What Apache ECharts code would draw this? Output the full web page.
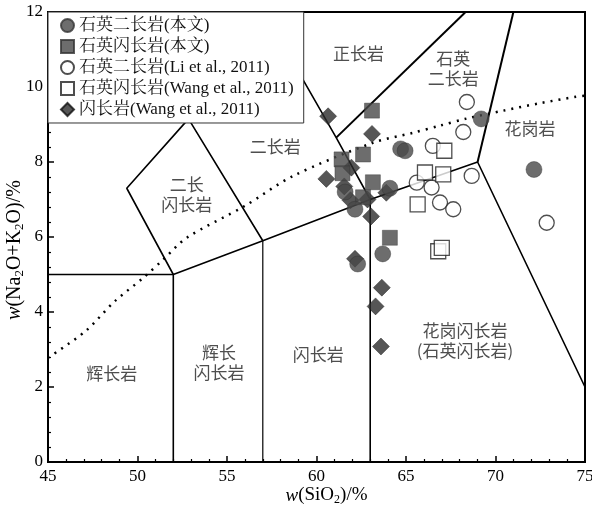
<!DOCTYPE html>
<html><head><meta charset="utf-8">
<script src="https://cdn.jsdelivr.net/npm/echarts@6/dist/echarts.min.js"></script>
<style>html,body{margin:0;padding:0;background:#fff}#c{width:592px;height:510px}</style>
</head><body><div id="c"></div>
<script>
// ---------- data ----------
const seriesNames = ['石英二长岩(本文)', '石英闪长岩(本文)', '石英二长岩(Li et al., 2011)', '石英闪长岩(Wang et al., 2011)', '闪长岩(Wang et al., 2011)'];
const qMonzoniteThis = [[69.2,9.15],[72.15,7.8],[64.7,8.35],[64.95,8.3],[64.1,7.3],[62.15,6.74],[62.3,5.28],[63.7,5.55],[61.6,7.2]];
const qDioriteThis = [[63.1,9.37],[62.6,8.2],[61.4,8.07],[61.45,7.7],[63.15,7.46],[62.6,7.06],[64.1,5.98]];
const qMonzoniteLi = [[68.4,9.6],[68.2,8.8],[66.5,8.43],[68.67,7.63],[65.6,7.45],[66.43,7.32],[66.9,6.92],[67.64,6.74],[72.86,6.38]];
const qDioriteWang = [[67.14,8.3],[66.06,7.72],[67.08,7.67],[65.65,6.87],[66.8,5.62],[67.0,5.71]];
const dioriteWang = [[60.65,9.22],[63.1,8.75],[60.55,7.55],[61.95,7.85],[61.55,7.35],[63.9,7.18],[62.85,7.0],[61.9,6.98],[63.05,6.55],[62.15,5.42],[63.65,4.65],[63.3,4.15],[63.6,3.08]];

// field boundaries (SiO2, Na2O+K2O)
const bGabbro = [[45,5],[52,5],[52,0]];
const b57 = [[57,0],[57,5.9]];
const b63 = [[63,0],[63,7]];
const bMain = [[52,5],[57,5.9],[63,7],[69,8],[75,2]];
const bMonzoniteSyenite = [[63,7],[61.1,8.65],[59.3,10.15],[57.7,11.5]];
const bSyeniteQm = [[61.1,8.65],[68.33,12]];
const bQmGranite = [[69,8],[71,12]];
const bMonzodiorite = [[52,5],[49.4,7.3],[52.85,9.15],[57,5.9]];
const alkalineLine = [[45,2.78],[47.07,3.48],[48.74,4.29],[50.32,4.91],[51.44,5.4],[52.75,5.98],[56.0,6.83],[58.7,7.63],[63.2,8.52],[65.4,8.78],[66.9,8.97],[68.4,9.16],[70.44,9.37],[72.5,9.57],[74.5,9.74],[75,9.77]];

// field names [SiO2, alkali, text]
const fieldLabels = [
  [62.34,10.88,'正长岩'],
  [67.64,10.48,'石英\n二长岩'],
  [71.93,8.88,'花岗岩'],
  [57.7,8.42,'二长岩'],
  [52.75,7.14,'二长\n闪长岩'],
  [48.56,2.37,'辉长岩'],
  [54.55,2.64,'辉长\n闪长岩'],
  [60.1,2.86,'闪长岩'],
  [68.3,3.24,'花岗闪长岩\n(石英闪长岩)']
];

// ---------- chart ----------
const SERIF = "'Liberation Serif','Times New Roman','Noto Serif CJK SC','Noto Sans CJK SC',serif";
const CJK = "'Noto Sans CJK SC',sans-serif";
const chart = echarts.init(document.getElementById('c'), null, {renderer:'canvas'});

function boundary(d, w) {
  return {type:'line', data:d, symbol:'none', silent:true, z:2,
    lineStyle:{color:'#000', width:w||1.6}, animation:false};
}
function richFor(fs) {
  return {
    i:{fontStyle:'italic', fontFamily:SERIF, fontSize:fs, lineHeight:fs+4},
    n:{fontFamily:SERIF, fontSize:fs, lineHeight:fs+4},
    s:{fontFamily:SERIF, fontSize:Math.round(fs*0.65), lineHeight:Math.round(fs*0.7), padding:[Math.round(fs*0.45),0,0,0]}
  };
}

const markerBase = {type:'scatter', z:5, animation:false};
const option = {
  animation:false,
  backgroundColor:'#fff',
  grid:{left:48, right:7, top:12, bottom:48, outerBoundsMode:'none', containLabel:false,
    show:true, borderColor:'#000', borderWidth:2, backgroundColor:'transparent'},
  xAxis:{type:'value', min:45, max:75, interval:5,
    name:'{i|w}{n|(SiO}{s|2}{n|)/%}', nameLocation:'middle', nameGap:22, nameMoveOverlap:false,
    nameTextStyle:{rich:richFor(19), color:'#000', padding:[0,0,0,20]},
    axisLine:{lineStyle:{color:'#000', width:2}},
    axisTick:{inside:true, length:6, lineStyle:{color:'#000', width:1.5}},
    minorTick:{show:true, splitNumber:5, length:3, lineStyle:{color:'#000', width:1.2}},
    splitLine:{show:false},
    axisLabel:{color:'#000', fontFamily:SERIF, fontSize:17, margin:6}},
  yAxis:{type:'value', min:0, max:12, interval:2,
    name:'{i|w}{n|(Na}{s|2}{n|O+K}{s|2}{n|O)/%}', nameLocation:'middle', nameGap:21, nameMoveOverlap:false,
    nameTextStyle:{rich:richFor(20), color:'#000', padding:[0,26,0,0]},
    axisLine:{lineStyle:{color:'#000', width:2}},
    axisTick:{inside:true, length:6, lineStyle:{color:'#000', width:1.5}},
    minorTick:{show:true, splitNumber:5, length:3, lineStyle:{color:'#000', width:1.2}},
    splitLine:{show:false},
    axisLabel:{color:'#000', fontFamily:SERIF, fontSize:17, margin:5}},
  legend:{orient:'vertical', left:48, top:12, data:seriesNames, selectedMode:false,
    itemWidth:13, itemHeight:13, itemGap:4, padding:[5,10,5,12],
    backgroundColor:'#fff', borderColor:'#333', borderWidth:1,
    textStyle:{fontFamily:SERIF, fontSize:17, color:'#111'}},
  series:[
    boundary(bGabbro), boundary(b57, 1.2), boundary(b63), boundary(bMain),
    boundary(bMonzoniteSyenite), boundary(bSyeniteQm, 2), boundary(bQmGranite, 2), boundary(bMonzodiorite),
    {type:'line', data:alkalineLine, symbol:'none', silent:true, z:2, smooth:0.3,
      lineStyle:{color:'#000', width:2.5, type:[2,6]}},
    {type:'scatter', silent:true, z:3, symbolSize:0,
      data:fieldLabels.map(l=>({value:[l[0],l[1]], name:l[2]})),
      label:{show:true, position:'inside', formatter:p=>p.name, color:'#222',
        fontFamily:CJK, fontSize:17, lineHeight:20}},
    Object.assign({}, markerBase, {name:seriesNames[2], data:qMonzoniteLi, symbol:'circle', symbolSize:15,
      itemStyle:{color:'#fff', borderColor:'#222', borderWidth:1.3}}),
    Object.assign({}, markerBase, {name:seriesNames[3], data:qDioriteWang, symbol:'rect', symbolSize:15,
      itemStyle:{color:'#fff', borderColor:'#222', borderWidth:1.3}}),
    Object.assign({}, markerBase, {name:seriesNames[4], data:dioriteWang, symbol:'diamond', symbolSize:17,
      itemStyle:{color:'#2c2c2c', borderColor:'#111', borderWidth:0.5}}),
    Object.assign({}, markerBase, {name:seriesNames[1], data:qDioriteThis, symbol:'rect', symbolSize:15,
      itemStyle:{color:'#484848', borderColor:'#333', borderWidth:0.5}}),
    Object.assign({}, markerBase, {name:seriesNames[0], data:qMonzoniteThis, symbol:'circle', symbolSize:16,
      itemStyle:{color:'#484848', borderColor:'#333', borderWidth:0.5}})
  ]
};
chart.setOption(option);
</script></body></html>
